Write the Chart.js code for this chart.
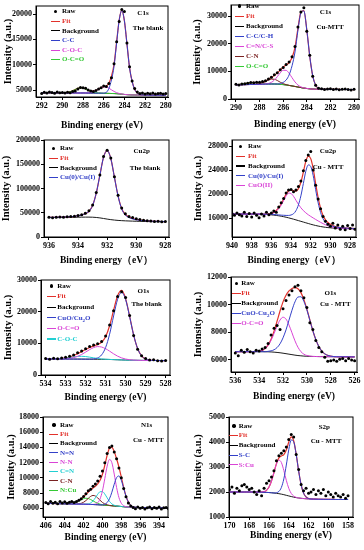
<!DOCTYPE html>
<html lang="en">
<head>
<meta charset="UTF-8">
<title>XPS spectra</title>
<script src="https://cdn.jsdelivr.net/npm/chart.js"></script>
<style>
  body { margin: 0; width: 364px; height: 550px; position: relative; overflow: hidden; background: #fff;
         font-family: 'Liberation Serif', 'Times New Roman', serif; font-weight: bold; }
  .panel { position: absolute; }
  .lline, .ldot, .ltxt, .lab { position: absolute; }
  .ldot { width: 3.4px; height: 3.4px; border-radius: 50%; background: #000; }
  .ltxt { font-size: 7px; line-height: 8px; white-space: nowrap; }
  .ltxt sub { font-size: 5px; line-height: 0; }
  .lab { font-size: 7px; line-height: 8px; white-space: nowrap; transform: translate(-50%, -50%); color: #000; }
</style>
</head>
<body>
<script>
// ---- C1s, the blank ----
const c1sBlankE = [292,291.75,291.5,291.25,291,290.75,290.5,290.25,290,289.75,289.5,289.25,289,288.75,288.5,288.25,288,287.75,287.5,287.25,287,286.75,286.5,286.25,286,285.75,285.5,285.25,285,284.75,284.5,284.25,284,283.75,283.5,283.25,283,282.75,282.5,282.25,282,281.75,281.5,281.25,281,280.75,280.5,280.25,280];
const c1sBlankRaw = [4300,4550,4400,4600,4500,4350,4600,4450,4500,4400,4550,4450,4700,4800,5200,5500,5450,5350,5000,4800,4700,4900,5200,5450,5800,5700,6300,7400,10200,14500,18500,20900,20500,14300,9600,6800,5300,4600,4300,4400,4200,4350,4250,4400,4200,4300,4350,4200,4300];
const c1sBlankFit = [4450,4450,4450,4450,4440,4440,4440,4430,4442,4467,4520,4647,4852,5110,5336,5456,5403,5214,4970,4803,4784,4924,5188,5467,5662,5780,6340,7723,10082,14497,18866,20710,18679,14100,9410,6700,5100,4400,4100,4050,4000,3995,3990,3990,3985,3985,3980,3980,3980];
const c1sBlankBg = [4450,4450,4450,4450,4440,4440,4440,4430,4430,4430,4420,4420,4420,4420,4410,4410,4410,4410,4400,4400,4400,4390,4380,4370,4350,4340,4330,4310,4300,4270,4230,4180,4120,4080,4050,4030,4020,4010,4000,4000,4000,3995,3990,3990,3985,3985,3980,3980,3980];
const c1sBlankCC = [4450,4450,4450,4450,4440,4440,4440,4430,4430,4430,4420,4420,4420,4420,4410,4410,4410,4410,4400,4400,4400,4390,4380,4370,4380,4520,5300,7000,9660,14290,18780,20680,18670,14100,9410,6700,5100,4400,4100,4050,4000,3995,3990,3990,3985,3985,3980,3980,3980];
const c1sBlankCOC = [4450,4450,4450,4450,4440,4440,4440,4430,4430,4430,4420,4420,4420,4420,4410,4410,4410,4421,4438,4504,4642,4867,5169,5467,5632,5600,5370,5033,4722,4477,4316,4210,4129,4080,4050,4030,4020,4010,4000,4000,4000,3995,3990,3990,3985,3985,3980,3980,3980];
const c1sBlankOCO = [4450,4450,4450,4450,4440,4440,4440,4430,4442,4467,4520,4647,4852,5110,5336,5456,5403,5203,4932,4699,4542,4447,4399,4370,4350,4340,4330,4310,4300,4270,4230,4180,4120,4080,4050,4030,4020,4010,4000,4000,4000,3995,3990,3990,3985,3985,3980,3980,3980];
const c1sBlankXTicks = [292,290,288,286,284,282,280];
const c1sBlankYTicks = [5000,10000,15000,20000];

// ---- C1s, Cu-MTT ----
const c1sMttE = [290,289.75,289.5,289.25,289,288.75,288.5,288.25,288,287.75,287.5,287.25,287,286.75,286.5,286.25,286,285.75,285.5,285.25,285,284.75,284.5,284.25,284,283.75,283.5,283.25,283,282.75,282.5,282.25,282,281.75,281.5,281.25,281,280.75,280.5,280.25,280];
const c1sMttRaw = [5300,5050,5400,5500,5700,6000,5900,6100,6050,6300,6600,7200,7900,8800,9500,10600,11400,12500,13400,15300,19000,26000,31500,33000,24500,15800,8200,5000,3900,3700,3400,3600,3700,3450,3600,3350,3500,3650,3400,3300,3550];
const c1sMttFit = [5146,5240,5390,5580,5780,5930,5980,5947,5925,6067,6470,7096,7810,8550,9440,10420,11560,12300,13145,15000,18670,25560,31450,31940,24960,15440,8400,4990,3840,3550,3490,3480,3470,3460,3450,3450,3440,3440,3430,3430,3420];
const c1sMttBg = [5100,5130,5160,5190,5220,5250,5280,5310,5340,5370,5400,5420,5430,5420,5380,5300,5200,5060,4900,4720,4530,4330,4130,3950,3800,3680,3600,3550,3520,3500,3490,3480,3470,3460,3450,3450,3440,3440,3430,3430,3420];
const c1sMttCC = [5100,5130,5160,5190,5220,5250,5280,5310,5340,5370,5400,5420,5430,5420,5440,5500,6000,6860,8700,12020,17030,24830,31180,31860,24940,15440,8400,4990,3840,3550,3490,3480,3470,3460,3450,3450,3440,3440,3430,3430,3420];
const c1sMttCNCS = [5100,5130,5160,5190,5220,5250,5280,5310,5340,5385,5460,5630,6030,6830,8070,9450,10400,10370,9310,7700,6170,5060,4400,4030,3820,3680,3600,3550,3520,3500,3490,3480,3470,3460,3450,3450,3440,3440,3430,3430,3420];
const c1sMttCN = [5100,5130,5160,5190,5220,5250,5290,5357,5500,5795,6280,6830,7190,7140,6690,6070,5560,5190,4935,4720,4530,4330,4130,3950,3800,3680,3600,3550,3520,3500,3490,3480,3470,3460,3450,3450,3440,3440,3430,3430,3420];
const c1sMttOCO = [5146,5240,5390,5580,5780,5930,5970,5900,5765,5627,5530,5476,5450,5420,5380,5300,5200,5060,4900,4720,4530,4330,4130,3950,3800,3680,3600,3550,3520,3500,3490,3480,3470,3460,3450,3450,3440,3440,3430,3430,3420];
const c1sMttXTicks = [290,288,286,284,282,280];
const c1sMttYTicks = [0,10000,20000,30000];

// ---- Cu2p, the blank ----
const cu2pBlankE = [936,935.75,935.5,935.25,935,934.75,934.5,934.25,934,933.75,933.5,933.25,933,932.75,932.5,932.25,932,931.75,931.5,931.25,931,930.75,930.5,930.25,930,929.75,929.5,929.25,929,928.75,928.5,928.25,928];
const cu2pBlankRaw = [40500,39800,40600,41000,40700,41500,42200,42900,44500,46000,49000,54000,66000,92000,128000,166000,179000,163000,124000,86000,60000,48000,42500,40000,37500,36000,34500,33500,33000,32000,32500,31500,32000];
const cu2pBlankFit = [40400,40550,40700,40880,41100,41400,41900,42600,43800,45400,48000,53000,64800,90300,127400,164200,177900,161800,123300,85000,58500,46500,41200,38200,36200,35000,34100,33500,32900,32500,32250,32000,31800];
const cu2pBlankBg = [40000,40100,40200,40300,40400,40500,40600,40700,40800,40900,41000,41000,40800,40300,39400,38200,36900,35800,34900,34200,33700,33300,33000,32700,32500,32300,32100,31900,31700,31600,31500,31400,31300];
const cu2pBlankCu = [40400,40550,40700,40880,41100,41400,41900,42600,43800,45400,48000,53000,64800,90300,127400,164200,177900,161800,122900,84200,57700,45300,40000,37200,35500,34500,33700,33200,32700,32400,32150,31950,31750];
const cu2pBlankXTicks = [936,934,932,930,928];
const cu2pBlankYTicks = [0,50000,100000,150000,200000];

// ---- Cu2p, Cu-MTT ----
const cu2pMttE = [940,939.75,939.5,939.25,939,938.75,938.5,938.25,938,937.75,937.5,937.25,937,936.75,936.5,936.25,936,935.75,935.5,935.25,935,934.75,934.5,934.25,934,933.75,933.5,933.25,933,932.75,932.5,932.25,932,931.75,931.5,931.25,931,930.75,930.5,930.25,930,929.75,929.5,929.25,929,928.75,928.5,928.25,928,927.75,927.5];
const cu2pMttRaw = [16800,16500,16900,16600,16400,17000,16300,16800,16200,16900,16500,16100,16700,16400,17000,16600,16900,17200,17000,17900,18600,19300,20200,20700,20800,20400,20700,21300,22200,23900,25600,26500,27100,24000,21500,19200,17600,16300,15500,15000,14700,15200,14400,14900,14200,14700,14100,14800,14300,14900,14200];
const cu2pMttFit = [16720,16720,16720,16720,16720,16720,16720,16720,16720,16720,16717,16710,16705,16695,16715,16750,16830,17010,17300,17765,18380,19205,20030,20580,20705,20560,20520,20930,21980,23670,25460,26310,25905,24250,21750,19440,17680,16470,15740,15300,15000,14800,14645,14540,14465,14430,14400,14370,14350,14325,14305];
const cu2pMttBg = [16700,16700,16700,16700,16700,16700,16700,16700,16700,16700,16690,16680,16670,16650,16630,16600,16570,16530,16480,16420,16350,16270,16180,16080,15970,15860,15740,15620,15500,15380,15260,15140,15020,14910,14810,14720,14640,14570,14510,14460,14420,14390,14360,14340,14320,14310,14300,14290,14280,14270,14260];
const cu2pMttCu = [16720,16720,16720,16720,16720,16720,16720,16720,16720,16720,16717,16710,16705,16695,16685,16670,16650,16630,16600,16565,16530,16505,16480,16480,16555,16760,17270,18230,19730,21770,23810,24860,24605,23100,20750,18590,16980,15920,15320,15000,14800,14680,14585,14520,14465,14430,14400,14370,14350,14325,14305];
const cu2pMttCuO = [16700,16700,16700,16700,16700,16700,16700,16700,16700,16700,16690,16680,16670,16650,16660,16680,16750,16910,17180,17620,18200,18970,19730,20180,20120,19660,18990,18320,17750,17280,16910,16590,16320,16060,15810,15570,15340,15120,14930,14760,14620,14510,14420,14360,14320,14310,14300,14290,14280,14270,14260];
const cu2pMttXTicks = [940,938,936,934,932,930,928];
const cu2pMttYTicks = [16000,20000,24000,28000];

// ---- O1s, the blank ----
const o1sBlankE = [534,533.8,533.6,533.4,533.2,533,532.8,532.6,532.4,532.2,532,531.8,531.6,531.4,531.2,531,530.8,530.6,530.4,530.2,530,529.8,529.6,529.4,529.2,529,528.8,528.6,528.4,528.2,528];
const o1sBlankRaw = [5200,5000,5300,5150,5400,5600,5900,6300,7000,7600,8300,9000,9500,9900,10600,12300,15800,20300,24800,26300,24500,18800,12500,8100,6100,5200,4700,4800,4500,4400,4600];
const o1sBlankFit = [5050,5070,5075,5112,5205,5392,5696,6140,6720,7380,8050,8680,9190,9640,10350,12090,15540,20470,25050,26700,24140,18600,12700,8380,6010,5020,4690,4600,4570,4560,4550];
const o1sBlankBg = [5050,5050,5050,5050,5050,5050,5040,5030,5020,5010,5000,4990,4980,4970,4950,4930,4900,4860,4810,4760,4720,4680,4650,4630,4610,4600,4590,4580,4570,4560,4550];
const o1sBlankCuO = [5050,5050,5050,5050,5050,5050,5040,5030,5020,5010,5000,5010,5080,5390,6350,8660,12890,18640,23910,26060,23820,18460,12640,8360,6010,5020,4690,4600,4570,4560,4550];
const o1sBlankOCO = [5050,5050,5055,5062,5085,5142,5256,5490,5890,6480,7220,8010,8650,8970,8830,8310,7530,6690,5950,5400,5040,4820,4707,4650,4610,4600,4590,4580,4570,4560,4550];
const o1sBlankCOC = [5050,5070,5070,5100,5170,5300,5480,5680,5850,5910,5830,5640,5420,5220,5070,4980,4920,4860,4810,4760,4720,4680,4650,4630,4610,4600,4590,4580,4570,4560,4550];
const o1sBlankXTicks = [534,533,532,531,530,529,528];
const o1sBlankYTicks = [0,10000,20000,30000];

// ---- O1s, Cu-MTT ----
const o1sMttE = [536,535.75,535.5,535.25,535,534.75,534.5,534.25,534,533.75,533.5,533.25,533,532.75,532.5,532.25,532,531.75,531.5,531.25,531,530.75,530.5,530.25,530,529.75,529.5,529.25,529,528.75,528.5,528.25,528,527.75,527.5,527.25,527,526.75,526.5,526.25,526];
const o1sMttRaw = [6500,6300,6700,6550,6750,6600,6500,6700,6650,6800,6900,7200,7800,8300,8500,8200,9700,10300,10700,11000,11300,11400,11000,10500,9800,8700,8200,7400,6900,6600,6200,5900,5950,6000,5900,6050,6100,5950,6100,6000,5950];
const o1sMttFit = [6600,6600,6600,6600,6600,6600,6600,6612,6636,6696,6830,7090,7505,8090,8805,9540,10200,10675,10990,11175,11235,11150,10870,10366,9675,8890,8115,7470,6975,6642,6440,6332,6276,6249,6232,6230,6230,6228,6226,6224,6222];
const o1sMttBg = [6600,6600,6600,6600,6600,6600,6600,6600,6600,6600,6595,6590,6580,6565,6545,6520,6490,6455,6420,6385,6350,6320,6300,6280,6270,6260,6255,6250,6245,6242,6240,6238,6236,6234,6232,6230,6230,6228,6226,6224,6222];
const o1sMttCuO = [6600,6600,6600,6600,6600,6600,6600,6600,6600,6600,6595,6625,6660,6740,6895,7170,7600,8175,8880,9595,10200,10550,10570,10230,9620,8870,8115,7470,6975,6642,6440,6332,6276,6249,6232,6230,6230,6228,6226,6224,6222];
const o1sMttOCO = [6600,6600,6600,6600,6600,6600,6600,6612,6636,6696,6820,7055,7425,7915,8455,8890,9090,8955,8530,7965,7385,6920,6600,6416,6325,6280,6255,6250,6245,6242,6240,6238,6236,6234,6232,6230,6230,6228,6226,6224,6222];
const o1sMttXTicks = [536,534,532,530,528,526];
const o1sMttYTicks = [6000,8000,10000,12000];

// ---- N1s, Cu-MTT ----
const n1sMttE = [406,405.75,405.5,405.25,405,404.75,404.5,404.25,404,403.75,403.5,403.25,403,402.75,402.5,402.25,402,401.75,401.5,401.25,401,400.75,400.5,400.25,400,399.75,399.5,399.25,399,398.75,398.5,398.25,398,397.75,397.5,397.25,397,396.75,396.5,396.25,396,395.75,395.5,395.25,395,394.75,394.5,394.25,394,393.75,393.5,393.25,393];
const n1sMttRaw = [6750,6600,6900,6650,6800,6600,6900,6700,6850,6650,6800,6900,6750,6900,7050,7250,7550,7900,8300,8500,8900,9200,9600,10200,10900,12000,13200,14000,14200,13400,12500,11300,10000,8600,7500,6700,6300,6100,5950,6150,6000,6100,5900,6050,6150,5950,6100,6000,6150,5900,6050,6100,5950];
const n1sMttFit = [6650,6643,6635,6628,6620,6613,6605,6598,6590,6595,6605,6637,6702,6827,7004,7239,7519,7831,8136,8409,8658,8894,9197,9672,10468,11653,12969,13893,14012,13446,12511,11398,10105,8757,7601,6808,6384,6201,6129,6100,6090,6085,6080,6075,6070,6068,6065,6063,6060,6058,6055,6053,6050];
const n1sMttBg = [6650,6643,6635,6628,6620,6613,6605,6598,6590,6583,6575,6568,6560,6553,6545,6538,6530,6520,6510,6500,6490,6475,6460,6440,6420,6400,6380,6355,6330,6305,6280,6255,6230,6205,6180,6160,6140,6125,6110,6100,6090,6085,6080,6075,6070,6068,6065,6063,6060,6058,6055,6053,6050];
const n1sMttNdN = [6650,6643,6635,6628,6620,6613,6605,6598,6590,6583,6575,6568,6560,6553,6545,6538,6530,6520,6510,6500,6490,6475,6460,6447,6454,6524,6751,7257,8109,9167,10025,10248,9680,8632,7572,6808,6384,6201,6129,6100,6090,6085,6080,6075,6070,6068,6065,6063,6060,6058,6055,6053,6050];
const n1sMttNsN = [6650,6643,6635,6628,6620,6613,6605,6598,6590,6583,6575,6568,6560,6553,6545,6538,6530,6520,6510,6500,6505,6546,6727,7230,8280,9880,11540,12425,11990,10495,8740,7405,6655,6330,6209,6160,6140,6125,6110,6100,6090,6085,6080,6075,6070,6068,6065,6063,6060,6058,6055,6053,6050];
const n1sMttCdN = [6650,6643,6635,6628,6620,6613,6605,6598,6590,6583,6575,6568,6560,6553,6545,6538,6530,6540,6580,6701,6961,7370,7840,8173,8190,7870,7373,6900,6573,6394,6306,6255,6230,6205,6180,6160,6140,6125,6110,6100,6090,6085,6080,6075,6070,6068,6065,6063,6060,6058,6055,6053,6050];
const n1sMttCsN = [6650,6643,6635,6628,6620,6613,6605,6598,6590,6583,6575,6568,6560,6567,6588,6652,6789,7013,7298,7558,7686,7610,7366,7048,6762,6562,6445,6376,6330,6305,6280,6255,6230,6205,6180,6160,6140,6125,6110,6100,6090,6085,6080,6075,6070,6068,6065,6063,6060,6058,6055,6053,6050];
const n1sMttNCu = [6650,6643,6635,6628,6620,6613,6605,6598,6590,6595,6605,6637,6702,6813,6961,7125,7260,7318,7278,7150,6976,6793,6644,6534,6462,6417,6380,6355,6330,6305,6280,6255,6230,6205,6180,6160,6140,6125,6110,6100,6090,6085,6080,6075,6070,6068,6065,6063,6060,6058,6055,6053,6050];
const n1sMttXTicks = [406,404,402,400,398,396,394];
const n1sMttYTicks = [6000,8000,10000,12000,14000,16000,18000];

// ---- S2p, Cu-MTT ----
const s2pMttE = [170,169.75,169.5,169.25,169,168.75,168.5,168.25,168,167.75,167.5,167.25,167,166.75,166.5,166.25,166,165.75,165.5,165.25,165,164.75,164.5,164.25,164,163.75,163.5,163.25,163,162.75,162.5,162.25,162,161.75,161.5,161.25,161,160.75,160.5,160.25,160,159.75,159.5,159.25,159,158.75,158.5,158.25,158];
const s2pMttRaw = [2100,2200,1950,2150,2050,2250,2300,2200,2100,2150,2000,1900,2050,1850,2150,2350,2450,2600,2850,3250,3450,3550,3650,3800,4100,4300,4200,3500,2900,2300,2050,2150,1950,2000,2100,1900,2050,1950,2100,1850,2000,1900,1800,1950,1850,1800,1900,1750,1850];
const s2pMttFit = [2000,2000,2000,2000,2000,2000,2000,2000,2000,2000,2000,1998,1995,1999,2014,2067,2197,2439,2779,3136,3366,3444,3492,3678,3997,4203,4047,3516,2840,2290,1955,1799,1742,1719,1715,1712,1710,1708,1706,1705,1704,1703,1702,1701,1700,1700,1700,1700,1700];
const s2pMttBg = [2000,2000,2000,2000,2000,2000,2000,2000,2000,2000,2000,1998,1995,1992,1988,1984,1978,1970,1960,1948,1933,1915,1893,1868,1843,1818,1795,1775,1760,1748,1738,1730,1724,1719,1715,1712,1710,1708,1706,1705,1704,1703,1702,1701,1700,1700,1700,1700,1700];
const s2pMttSC = [2000,2000,2000,2000,2000,2000,2000,2000,2000,2000,2000,1998,1995,1992,1988,1984,1978,1970,1960,1972,2022,2180,2526,3078,3693,4078,4005,3505,2840,2290,1955,1799,1742,1719,1715,1712,1710,1708,1706,1705,1704,1703,1702,1701,1700,1700,1700,1700,1700];
const s2pMttSCu = [2000,2000,2000,2000,2000,2000,2000,2000,2000,2000,2000,1998,1995,1999,2014,2067,2197,2439,2779,3112,3277,3179,2859,2468,2147,1943,1837,1786,1760,1748,1738,1730,1724,1719,1715,1712,1710,1708,1706,1705,1704,1703,1702,1701,1700,1700,1700,1700,1700];
const s2pMttXTicks = [170,168,166,164,162,160,158];
const s2pMttYTicks = [1000,2000,3000,4000,5000];

// colours
const RED = '#e2312b', BLK = '#1a1a1a', BLUE = '#3340c8', MAG = '#d944d6', GRN = '#36c936', CYAN = '#22cfd2', BRN = '#7a2222';

Chart.defaults.font.family = "'Liberation Serif', 'Times New Roman', serif";
Chart.defaults.font.weight = 'bold';
Chart.defaults.color = '#000';

const frame = {
  id: 'frame',
  afterDraw(c) {
    const a = c.chartArea, g = c.ctx;
    g.save();
    g.strokeStyle = '#000';
    g.lineWidth = 1;
    g.strokeRect(a.left, a.top, a.right - a.left, a.bottom - a.top);
    g.restore();
  }
};

const yW = 46, xH = 38, padT = 10, padR = 12;

function pts(xs, ys) { return xs.map((x, i) => ({ x: x, y: ys[i] })); }

function addText(cls, x, y, html, color) {
  const d = document.createElement('div');
  d.className = cls;
  d.style.left = x + 'px';
  d.style.top = y + 'px';
  if (color) d.style.color = color;
  d.innerHTML = html;
  document.body.appendChild(d);
}

function legend(lg, items) {
  const [mx, y0, dy, tx] = lg;
  items.forEach((it, i) => {
    const y = y0 + i * dy;
    const m = document.createElement('div');
    if (it[2] === 'dot') {
      m.className = 'ldot';
      m.style.left = (mx + 3) + 'px';
      m.style.top = (y - 1.7) + 'px';
    } else {
      m.className = 'lline';
      m.style.left = mx + 'px';
      m.style.top = (y - 0.6) + 'px';
      m.style.width = '9px';
      m.style.height = '1.2px';
      m.style.background = it[1];
    }
    document.body.appendChild(m);
    addText('ltxt', tx, y - 4.3, it[0], it[1]);
  });
}

function panel(p) {
  const [l, t, r, b] = p.box;
  const w = r - l + yW + padR, h = b - t + padT + xH;
  const div = document.createElement('div');
  div.className = 'panel';
  div.style.left = (l - yW) + 'px';
  div.style.top = (t - padT) + 'px';
  const cv = document.createElement('canvas');
  cv.width = w; cv.height = h;
  cv.style.width = w + 'px'; cv.style.height = h + 'px';
  div.appendChild(cv);
  document.body.appendChild(div);

  const sets = [{
    data: pts(p.e, p.raw), showLine: false, pointRadius: 1.5, pointBorderWidth: 0,
    pointBackgroundColor: '#000', borderColor: '#000'
  }];
  p.lines.forEach(s => sets.push({
    data: pts(p.e, s[0]), borderColor: s[1], borderWidth: s[2] || 1,
    pointRadius: 0, fill: false, cubicInterpolationMode: 'monotone'
  }));

  new Chart(cv, {
    type: 'line',
    data: { datasets: sets },
    options: {
      responsive: false, animation: false, devicePixelRatio: 1,
      layout: { padding: { top: padT, right: padR, left: 0, bottom: 0 } },
      plugins: { legend: { display: false }, tooltip: { enabled: false } },
      scales: {
        x: {
          type: 'linear', reverse: true, min: p.xr[0], max: p.xr[1],
          afterFit: s => { s.height = xH; },
          afterBuildTicks: s => { s.ticks = p.xt.map(v => ({ value: v })); },
          ticks: { font: { size: 8, weight: 'bold' }, color: '#000', padding: 1, maxRotation: 0, autoSkip: false, callback: v => String(v) },
          grid: { drawOnChartArea: false, tickLength: 3, color: '#000' },
          border: { color: '#000', width: 1 },
          title: { display: true, text: p.xtitle, color: '#000', font: { size: 9.5, weight: 'bold' }, padding: { top: 0, bottom: p.xtp } }
        },
        y: {
          min: p.yr[0], max: p.yr[1],
          afterFit: s => { s.width = yW; },
          afterBuildTicks: s => { s.ticks = p.yt.map(v => ({ value: v })); },
          ticks: { font: { size: 8, weight: 'bold' }, color: '#000', padding: 1, autoSkip: false, callback: v => String(v) },
          grid: { drawOnChartArea: false, tickLength: 3, color: '#000' },
          border: { color: '#000', width: 1 },
          title: { display: true, text: 'Intensity (a.u.)', color: '#000', font: { size: 10.5, weight: 'bold' }, padding: { top: p.ytp, bottom: 0 } }
        }
      }
    },
    plugins: [frame]
  });

  legend(p.lg, p.items);
  p.labels.forEach(q => addText('lab', q[1], q[2], q[0]));
}

const BE = 'Binding energy (eV)', BEW = 'Binding energy\uFF08eV\uFF09';

panel({
  box: [36, 6, 168, 97], xr: [279.78, 292.55], yr: [3620, 21580], xt: c1sBlankXTicks, yt: c1sBlankYTicks,
  xtitle: BE, xtp: 3.3, ytp: 12,
  e: c1sBlankE, raw: c1sBlankRaw,
  lines: [[c1sBlankCC, BLUE], [c1sBlankCOC, MAG], [c1sBlankOCO, GRN], [c1sBlankFit, RED, 1.2], [c1sBlankBg, BLK]],
  lg: [51, 11.7, 9.6, 62],
  items: [['Raw', '#000', 'dot'], ['Fit', RED], ['Background', '#000'], ['C-C', BLUE], ['C-O-C', MAG], ['O-C=O', GRN]],
  labels: [['C1s', 143, 13], ['The blank', 148, 28]]
});

panel({
  box: [231, 5, 359, 99], xr: [279.58, 290.42], yr: [0, 34000], xt: c1sMttXTicks, yt: c1sMttYTicks,
  xtitle: BE, xtp: 6.3, ytp: 5.7,
  e: c1sMttE, raw: c1sMttRaw,
  lines: [[c1sMttCC, BLUE], [c1sMttCNCS, MAG], [c1sMttCN, BRN], [c1sMttOCO, GRN], [c1sMttFit, RED, 1.2], [c1sMttBg, BLK]],
  lg: [235, 6, 10.1, 246],
  items: [['Raw', '#000', 'dot'], ['Fit', RED], ['Background', '#000'], ['C-C/C-H', BLUE], ['C=N/C-S', MAG], ['C-N', BRN], ['O-C=O', GRN]],
  labels: [['C1s', 325.5, 11.7], ['Cu-MTT', 330, 26.7]]
});

panel({
  box: [44, 140, 169, 237], xr: [927.75, 936.34], yr: [0, 200000], xt: cu2pBlankXTicks, yt: cu2pBlankYTicks,
  xtitle: BEW, xtp: 8.3, ytp: 2.4,
  e: cu2pBlankE, raw: cu2pBlankRaw,
  lines: [[cu2pBlankCu, BLUE], [cu2pBlankFit, RED, 1.2], [cu2pBlankBg, BLK]],
  lg: [49, 148.3, 9.8, 60],
  items: [['Raw', '#000', 'dot'], ['Fit', RED], ['Background', '#000'], ['Cu(0)/Cu(I)', BLUE]],
  labels: [['Cu2p', 141.7, 151], ['The blank', 145, 168.3]]
});

panel({
  box: [232, 140, 356, 237], xr: [927.4, 940], yr: [12900, 29000], xt: cu2pMttXTicks, yt: cu2pMttYTicks,
  xtitle: BEW, xtp: 8.3, ytp: 6.4,
  e: cu2pMttE, raw: cu2pMttRaw,
  lines: [[cu2pMttCu, BLUE], [cu2pMttCuO, MAG], [cu2pMttFit, RED, 1.2], [cu2pMttBg, BLK]],
  lg: [236, 146.3, 9.85, 248],
  items: [['Raw', '#000', 'dot'], ['Fit', RED], ['Background', '#000'], ['Cu(0)/Cu(I)', BLUE], ['CuO(II)', MAG]],
  labels: [['Cu2p', 328, 151.3], ['Cu - MTT', 328, 167.3]]
});

panel({
  box: [41, 280, 170, 375], xr: [527.78, 534.23], yr: [0, 30000], xt: o1sBlankXTicks, yt: o1sBlankYTicks,
  xtitle: BE, xtp: 9.3, ytp: 7,
  e: o1sBlankE, raw: o1sBlankRaw,
  lines: [[o1sBlankCuO, BLUE], [o1sBlankOCO, MAG], [o1sBlankCOC, CYAN], [o1sBlankFit, RED, 1.2], [o1sBlankBg, BLK]],
  lg: [46.7, 286, 10.6, 57.3],
  items: [['Raw', '#000', 'dot'], ['Fit', RED], ['Background', '#000'], ['CuO/Cu<sub>2</sub>O', BLUE], ['O-C=O', MAG], ['C-O-C', CYAN]],
  labels: [['O1s', 143.3, 290.7], ['The blank', 146.7, 304.3]]
});

panel({
  box: [231, 277, 357, 372], xr: [525.8, 536.36], yr: [5130, 12000], xt: o1sMttXTicks, yt: o1sMttYTicks,
  xtitle: BE, xtp: 7.3, ytp: 7.4,
  e: o1sMttE, raw: o1sMttRaw,
  lines: [[o1sMttCuO, BLUE], [o1sMttOCO, MAG], [o1sMttFit, RED, 1.2], [o1sMttBg, BLK]],
  lg: [232, 283.3, 10, 241.3],
  items: [['Raw', '#000', 'dot'], ['Fit', RED], ['Background', '#000'], ['CuO-Cu<sub>2</sub>O', BLUE], ['O-C=O', MAG]],
  labels: [['O1s', 330.3, 292.7], ['Cu - MTT', 335.3, 304]]
});

panel({
  box: [43, 417, 168, 517], xr: [393.05, 406.3], yr: [4850, 18000], xt: n1sMttXTicks, yt: n1sMttYTicks,
  xtitle: BE, xtp: 11.3, ytp: 8.4,
  e: n1sMttE, raw: n1sMttRaw,
  lines: [[n1sMttNdN, BLUE], [n1sMttNsN, MAG], [n1sMttCdN, CYAN], [n1sMttCsN, BRN], [n1sMttNCu, GRN], [n1sMttFit, RED, 1.2], [n1sMttBg, BLK]],
  lg: [49.3, 425, 9.3, 60],
  items: [['Raw', '#000', 'dot'], ['Fit', RED], ['Background', '#000'], ['N=N', BLUE], ['N-N', MAG], ['C=N', CYAN], ['C-N', BRN], ['N:Cu', GRN]],
  labels: [['N1s', 146.7, 425], ['Cu - MTT', 148.3, 440]]
});

panel({
  box: [229, 417, 353, 517], xr: [157.5, 170.05], yr: [1000, 5000], xt: s2pMttXTicks, yt: s2pMttYTicks,
  xtitle: BE, xtp: 13.3, ytp: 8.7,
  e: s2pMttE, raw: s2pMttRaw,
  lines: [[s2pMttSC, BLUE], [s2pMttSCu, MAG], [s2pMttFit, RED, 1.2], [s2pMttBg, BLK]],
  lg: [229.3, 426, 9.7, 238.7],
  items: [['Raw', '#000', 'dot'], ['Fit', RED], ['Background', '#000'], ['S-C', BLUE], ['S:Cu', MAG]],
  labels: [['S2p', 324.3, 427], ['Cu - MTT', 326, 441.3]]
});
</script>
</body>
</html>
